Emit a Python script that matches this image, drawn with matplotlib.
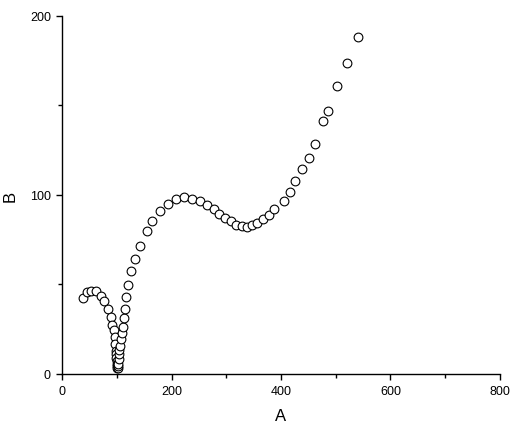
import matplotlib
matplotlib.use("Agg")
from matplotlib import pyplot as plt
from matplotlib.ticker import MultipleLocator

plt.rcParams['font.family'] = ['Liberation Sans', 'DejaVu Sans']

# left hook, V dip, hump, trough, rise
a_values = [39, 45, 53, 62, 71, 77, 84, 89, 92, 94.5, 96.3, 97.4, 98.2,
            98.8, 99.3, 99.8, 100.3, 100.8, 101.3, 102,
            102.6, 103, 103.3, 103.7, 104.5, 106, 107.3, 109.7, 111, 113.3,
            114.6, 117, 121, 125.6, 133.5, 142.6, 155, 165, 179, 193, 208,
            223, 237, 252, 265.7, 278, 287.6, 298, 308, 318, 328.5, 337.6,
            347, 357, 367, 378.4, 387, 404.6, 417, 426.5, 439, 451, 462,
            476, 486, 503, 521, 541]
b_values = [42.4, 45.8, 46.3, 46.1, 43.7, 40.5, 36.4, 31.8, 27.6, 24.3, 20.6, 16.8, 13,
            11, 9, 7.2, 5.6, 4.4, 3.6, 3.2,
            4.2, 5.6, 8.4, 11, 13.5, 15.5, 19.6, 23, 26.5, 31.4,
            36.4, 43, 49.5, 57.3, 64, 71.5, 79.7, 85.3, 91.1, 95.2, 97.7,
            98.6, 98, 96.5, 94.3, 91.9, 89.6, 87.2, 85.3, 83.5, 82.5, 82.2,
            83.1, 84.2, 86.3, 88.7, 92, 96.7, 101.6, 108, 114.5, 120.5, 128.5,
            141.5, 147, 161, 174, 188.5]

fig = plt.figure(figsize=(5.17, 4.35), dpi=100)
ax = fig.add_axes([0.12, 0.138, 0.847, 0.823])

ax.plot(a_values, b_values, 'o', markersize=6.3, markerfacecolor='white',
        markeredgecolor='black', markeredgewidth=0.8, linestyle='none')

ax.set_xlim(0, 800)
ax.set_ylim(0, 200)
ax.xaxis.set_major_locator(MultipleLocator(200))
ax.xaxis.set_minor_locator(MultipleLocator(100))
ax.yaxis.set_major_locator(MultipleLocator(100))
ax.yaxis.set_minor_locator(MultipleLocator(50))

for side in ['top', 'right']:
    ax.spines[side].set_visible(False)
for side in ['left', 'bottom']:
    ax.spines[side].set_linewidth(1.0)

ax.tick_params(which='major', direction='out', length=4.5, width=1.0,
               labelsize=9, pad=3.5)
ax.tick_params(which='minor', direction='out', length=2.7, width=1.0)

ax.set_xlabel('A', fontsize=12, labelpad=8)
ax.set_ylabel('B', fontsize=12, labelpad=9)

fig.savefig('out.png', dpi=100)
